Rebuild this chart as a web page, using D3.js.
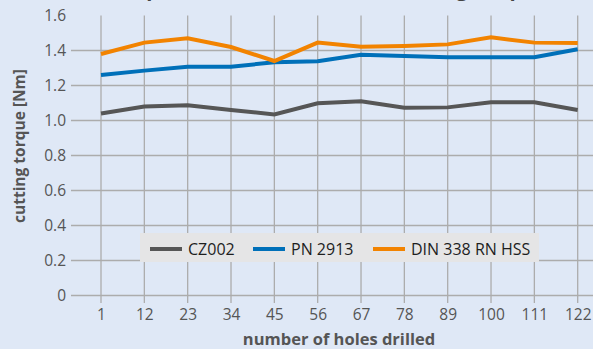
<!DOCTYPE html>
<html>
<head>
<meta charset="utf-8">
<script src="https://cdn.jsdelivr.net/npm/d3@7"></script>
<style>
  html, body { margin: 0; padding: 0; background: #dfe8f6; }
  svg { display: block; font-family: "Open Sans", "Noto Sans", sans-serif; }
</style>
</head>
<body>
<svg id="chart" width="593" height="349"></svg>
<script>
// Drill counts at which torque was measured
const holes = ["1", "12", "23", "34", "45", "56", "67", "78", "89", "100", "111", "122"];

// Mean cutting torque [Nm] per drill type
const cz002   = [1.04, 1.08, 1.087, 1.06, 1.035, 1.098, 1.11, 1.073, 1.075, 1.104, 1.104, 1.06];
const pn2913  = [1.26, 1.285, 1.307, 1.307, 1.333, 1.338, 1.376, 1.369, 1.361, 1.361, 1.361, 1.407];
const din338  = [1.38, 1.445, 1.47, 1.42, 1.34, 1.445, 1.422, 1.426, 1.435, 1.475, 1.445, 1.443];

const seriesNames = ["CZ002", "PN 2913", "DIN 338 RN HSS"];
const seriesColors = ["#565656", "#0070b9", "#f28300"];
const yTicks = [0, 0.2, 0.4, 0.6, 0.8, 1.0, 1.2, 1.4, 1.6];

const series = [cz002, pn2913, din338].map((values, i) => ({
  name: seriesNames[i], color: seriesColors[i], values
}));

const svg = d3.select("#chart");
const W = 593, H = 349;
const grid = "#acacac", textGrey = "#555555";

const x = d3.scalePoint().domain(holes).range([101, 577.7]);
const y = d3.scaleLinear().domain([0, 1.6]).range([295.5, 15.5]);

// Title (sits mostly above the visible area)
svg.append("text")
  .attr("x", 326).attr("y", -4)
  .attr("text-anchor", "middle")
  .attr("font-weight", "bold").attr("font-size", 20)
  .attr("fill", "#444")
  .text("Comparison of the measured cutting torques");

// Horizontal gridlines (no line at the top value)
svg.append("g")
  .selectAll("line")
  .data(yTicks.filter(t => t < 1.6))
  .join("line")
  .attr("x1", 71).attr("x2", W)
  .attr("y1", d => y(d)).attr("y2", d => y(d))
  .attr("stroke", grid).attr("stroke-width", 1.3);

// Vertical gridlines through each category
svg.append("g")
  .selectAll("line")
  .data(holes)
  .join("line")
  .attr("x1", d => x(d)).attr("x2", d => x(d))
  .attr("y1", y(1.6)).attr("y2", 303)
  .attr("stroke", grid).attr("stroke-width", 1.3);

// Y axis labels
const yAxis = d3.axisLeft(y).tickValues(yTicks)
  .tickFormat(d => d === 0 ? "0" : d3.format(".1f")(d))
  .tickSize(0).tickPadding(0);
svg.append("g")
  .attr("transform", "translate(66,0)")
  .call(yAxis)
  .call(g => g.select(".domain").remove())
  .call(g => g.selectAll("text")
    .attr("font-family", "'Open Sans', sans-serif")
    .attr("font-size", 15.5).attr("fill", textGrey));

// X axis labels
const xAxis = d3.axisBottom(x).tickSize(0).tickPadding(0);
svg.append("g")
  .attr("transform", "translate(0,309)")
  .call(xAxis)
  .call(g => g.select(".domain").remove())
  .call(g => g.selectAll("text")
    .attr("dy", "0.71em")
    .attr("font-family", "'Open Sans', sans-serif")
    .attr("font-size", 15.5).attr("fill", textGrey));

// Axis titles
svg.append("text")
  .attr("transform", "translate(25,146) rotate(-90)")
  .attr("text-anchor", "middle")
  .attr("font-weight", "bold").attr("font-size", 15.5)
  .attr("fill", textGrey)
  .text("cutting torque [Nm]");

svg.append("text")
  .attr("x", 339).attr("y", 345)
  .attr("text-anchor", "middle")
  .attr("font-weight", "bold").attr("font-size", 16.5)
  .attr("fill", textGrey)
  .text("number of holes drilled");

// Series lines
const line = d3.line()
  .x((d, i) => x(holes[i]))
  .y(d => y(d));

svg.append("g")
  .selectAll("path")
  .data(series)
  .join("path")
  .attr("d", d => line(d.values))
  .attr("fill", "none")
  .attr("stroke", d => d.color)
  .attr("stroke-width", 4)
  .attr("stroke-linejoin", "miter");

// Legend
const legend = svg.append("g");
legend.append("rect")
  .attr("x", 140).attr("y", 233)
  .attr("width", 399).attr("height", 29)
  .attr("fill", "#e5e5e6");

const legendX = [150, 253, 373];
const entries = legend.selectAll("g.entry")
  .data(series)
  .join("g")
  .attr("class", "entry")
  .attr("transform", (d, i) => `translate(${legendX[i]},249)`);
entries.append("line")
  .attr("x1", 0).attr("x2", 32)
  .attr("stroke", d => d.color).attr("stroke-width", 4);
entries.append("text")
  .attr("x", 38).attr("y", 0).attr("dy", "0.35em")
  .attr("font-size", 16).attr("fill", "#1e1e1e")
  .text(d => d.name);
</script>
</body>
</html>
